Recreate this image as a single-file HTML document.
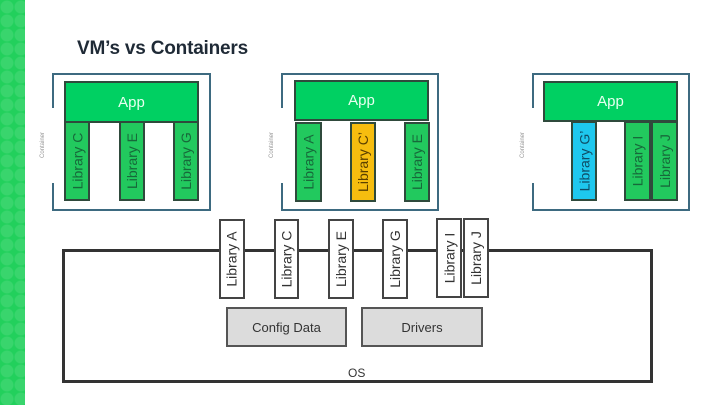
<!DOCTYPE html>
<html><head><meta charset="utf-8"><style>
*{margin:0;padding:0;box-sizing:border-box}
body{width:720px;height:405px;position:relative;background:#fff;font-family:"Liberation Sans",sans-serif;overflow:hidden}
.a{position:absolute}
.strip{left:0;top:0;width:25px;height:405px;background:#22d05c;background-image:radial-gradient(circle at 50% 50%,rgba(255,255,255,0.10) 0 6px,transparent 7px);background-size:14px 14px}
.title{left:77px;top:38px;font-size:19px;font-weight:bold;color:#1f2a36;letter-spacing:-0.2px}
.box{border:2px solid #3d6a80}
.gap{background:#fff;width:6px}
.app{background:#00d062;border:2px solid #2f4a3c;color:#e8fff0;font-size:15px;display:flex;align-items:center;justify-content:center}
.lib{border:2px solid #2f4a3c;background:#22c95e;display:flex;align-items:center;justify-content:center}
.lib span,.bl span{transform:rotate(-90deg);white-space:nowrap;font-size:14px}
.lib span{color:#17693a}
.bl{border:2px solid #444;background:#fff;display:flex;align-items:center;justify-content:center}
.bl span{color:#333}
.gray{background:#dcdcdc;border:2px solid #555;color:#333;font-size:13px;display:flex;align-items:center;justify-content:center}
.tiny{font-size:6px;color:#999;transform:rotate(-90deg);white-space:nowrap}
</style></head><body>
<div class="a strip"></div>
<div class="a title">VM’s vs Containers</div>

<div class="a" style="left:62px;top:249px;width:591px;height:134px;border:3px solid #333"></div>
<div class="a" style="left:348px;top:366px;font-size:12px;color:#333">OS</div>

<div class="a box" style="left:52px;top:73px;width:159px;height:138px"></div>
<div class="a gap" style="left:50px;top:108px;height:75px"></div>
<div class="a tiny" style="left:30px;top:142px">Container</div>
<div class="a app" style="left:64px;top:81px;width:135px;height:42px">App</div>
<div class="a lib" style="left:64px;top:121px;width:26px;height:80px"><span>Library C</span></div>
<div class="a lib" style="left:119px;top:121px;width:26px;height:80px"><span>Library E</span></div>
<div class="a lib" style="left:173px;top:121px;width:26px;height:80px"><span>Library G</span></div>

<div class="a box" style="left:281px;top:73px;width:158px;height:138px"></div>
<div class="a gap" style="left:279px;top:108px;height:75px"></div>
<div class="a tiny" style="left:259px;top:142px">Container</div>
<div class="a app" style="left:294px;top:80px;width:135px;height:41px">App</div>
<div class="a lib" style="left:295px;top:122px;width:27px;height:80px"><span>Library A</span></div>
<div class="a lib" style="left:350px;top:122px;width:26px;height:80px;background:#f6bd0f"><span style="color:#5a4000">Library C’</span></div>
<div class="a lib" style="left:404px;top:122px;width:26px;height:80px"><span>Library E</span></div>

<div class="a box" style="left:532px;top:73px;width:158px;height:138px"></div>
<div class="a gap" style="left:530px;top:108px;height:75px"></div>
<div class="a tiny" style="left:510px;top:142px">Container</div>
<div class="a app" style="left:543px;top:81px;width:135px;height:41px">App</div>
<div class="a lib" style="left:571px;top:121px;width:26px;height:80px;background:#1ec8ee"><span style="color:#0f4d66">Library G’</span></div>
<div class="a lib" style="left:624px;top:121px;width:27px;height:80px"><span>Library I</span></div>
<div class="a lib" style="left:651px;top:121px;width:27px;height:80px"><span>Library J</span></div>

<div class="a bl" style="left:219px;top:219px;width:26px;height:80px"><span>Library A</span></div>
<div class="a bl" style="left:274px;top:219px;width:25px;height:80px"><span>Library C</span></div>
<div class="a bl" style="left:328px;top:219px;width:26px;height:80px"><span>Library E</span></div>
<div class="a bl" style="left:382px;top:219px;width:26px;height:80px"><span>Library G</span></div>
<div class="a bl" style="left:436px;top:218px;width:26px;height:80px"><span>Library I</span></div>
<div class="a bl" style="left:463px;top:218px;width:26px;height:80px"><span>Library J</span></div>

<div class="a gray" style="left:226px;top:307px;width:121px;height:40px">Config Data</div>
<div class="a gray" style="left:361px;top:307px;width:122px;height:40px">Drivers</div>
</body></html>
